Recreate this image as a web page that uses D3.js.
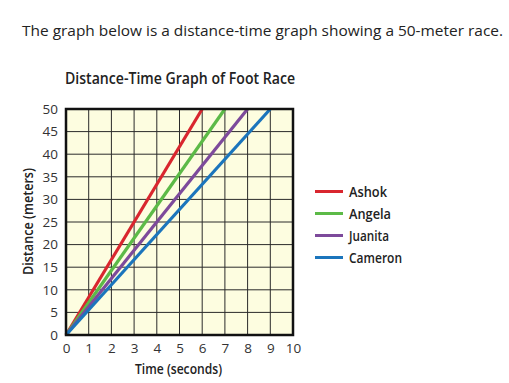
<!DOCTYPE html>
<html><head><meta charset="utf-8">
<script src="https://cdn.jsdelivr.net/npm/d3@7"></script>
<style>body{margin:0;background:#fff}svg{display:block}</style>
</head><body>
<svg id="c" width="509" height="383"></svg>
<script>
const runners = ["Ashok", "Angela", "Juanita", "Cameron"];
const colors = ["#d9262e", "#5cba47", "#7d4a9b", "#1b75bc"];
const times = [[0, 6], [0, 7], [0, 8], [0, 9]];
const distances = [[0, 50], [0, 50], [0, 50], [0, 50]];
const xTicks = [0,1,2,3,4,5,6,7,8,9,10];
const yTicks = [0,5,10,15,20,25,30,35,40,45,50];

const svg = d3.select("#c");
const cf = "'Open Sans',sans-serif";
const L = 66, R = 293, T = 109, B = 335;
const x = d3.scaleLinear().domain([0, 10]).range([L, R]);
const y = d3.scaleLinear().domain([0, 50]).range([B, T]);

svg.append("text").attr("x", 22).attr("y", 36)
  .attr("font-family", "'Open Sans',sans-serif").attr("font-size", 15.3).attr("fill", "#222")
  .attr("textLength", 481).attr("lengthAdjust", "spacingAndGlyphs")
  .text("The graph below is a distance-time graph showing a 50-meter race.");

svg.append("text").attr("x", 65).attr("y", 84)
  .attr("font-family", cf).attr("font-weight", 600).attr("font-size", 16).attr("fill", "#222")
  .attr("textLength", 230).attr("lengthAdjust", "spacingAndGlyphs")
  .text("Distance-Time Graph of Foot Race");

svg.append("rect").attr("x", L).attr("y", T).attr("width", R - L).attr("height", B - T).attr("fill", "#fdfde0");

// grid
svg.append("g").selectAll("line").data(xTicks).join("line")
  .attr("x1", d => x(d)).attr("x2", d => x(d)).attr("y1", T).attr("y2", B)
  .attr("stroke", "#2a2a2a").attr("stroke-width", 1);
svg.append("g").selectAll("line").data(yTicks).join("line")
  .attr("y1", d => y(d)).attr("y2", d => y(d)).attr("x1", L).attr("x2", R)
  .attr("stroke", "#2a2a2a").attr("stroke-width", 1);

// axes labels via d3 axes
const xa = svg.append("g").attr("transform", `translate(0,${B})`)
  .call(d3.axisBottom(x).tickValues(xTicks).tickSize(0).tickPadding(8));
const ya = svg.append("g").attr("transform", `translate(${L},0)`)
  .call(d3.axisLeft(y).tickValues(yTicks).tickSize(0).tickPadding(8));
[xa, ya].forEach(g => {
  g.select(".domain").remove();
  g.selectAll("text").attr("font-family", "'Open Sans',sans-serif").attr("font-size", 13.5).attr("fill", "#333");
});

// lines
const line = d3.line().x(d => x(d[0])).y(d => y(d[1]));
runners.forEach((r, i) => {
  const pts = times[i].map((t, j) => [t, distances[i][j]]);
  svg.append("path").attr("d", line(pts)).attr("fill", "none")
    .attr("stroke", colors[i]).attr("stroke-width", 3.2);
});

svg.append("rect").attr("x", L).attr("y", T).attr("width", R - L).attr("height", B - T)
  .attr("fill", "none").attr("stroke", "#111").attr("stroke-width", 2.5);

svg.append("text").attr("x", 135).attr("y", 374)
  .attr("font-family", cf).attr("font-weight", 600).attr("font-size", 14).attr("fill", "#222")
  .attr("textLength", 87).attr("lengthAdjust", "spacingAndGlyphs").text("Time (seconds)");
svg.append("text").attr("transform", "translate(33,275) rotate(-90)")
  .attr("font-family", cf).attr("font-weight", 600).attr("font-size", 14).attr("fill", "#222")
  .attr("textLength", 107).attr("lengthAdjust", "spacingAndGlyphs").text("Distance (meters)");

// legend
const lg = svg.append("g");
const legW = [38, 42, 40, 53];
runners.forEach((r, i) => {
  const ly = 191.5 + i * 22;
  lg.append("line").attr("x1", 315).attr("x2", 343).attr("y1", ly).attr("y2", ly)
    .attr("stroke", colors[i]).attr("stroke-width", 3);
  lg.append("text").attr("x", 349).attr("y", ly + 5).attr("font-family", cf)
    .attr("font-weight", 600).attr("font-size", 14).attr("fill", "#222")
    .attr("textLength", legW[i]).attr("lengthAdjust", "spacingAndGlyphs").text(r);
});
</script>
</body></html>
